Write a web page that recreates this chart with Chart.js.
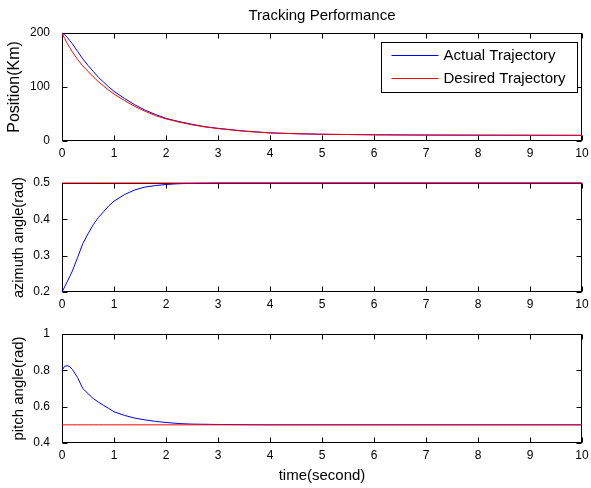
<!DOCTYPE html>
<html>
<head>
<meta charset="utf-8">
<title>Tracking Performance</title>
<script src="https://cdn.jsdelivr.net/npm/chart.js@4.4.1/dist/chart.umd.min.js"></script>
<style>
  html, body { margin: 0; padding: 0; background: #fff; }
  #wrap { position: relative; width: 591px; height: 488px; overflow: hidden; }
  #wrap canvas { position: absolute; left: 0; }
</style>
</head>
<body>
<div id="wrap">
  <canvas id="chart-position" width="591" height="165" style="top:0"></canvas>
  <canvas id="chart-azimuth" width="591" height="150" style="top:165px"></canvas>
  <canvas id="chart-pitch" width="591" height="173" style="top:315px"></canvas>
</div>
<script>
/* ---- Data ---- */
var TIME = [0, 0.05, 0.1, 0.15, 0.2, 0.3, 0.4, 0.5, 0.6, 0.7, 0.8, 0.9, 1.0,
  1.2, 1.4, 1.6, 1.8, 2.0, 2.25, 2.5, 2.75, 3.0, 3.5, 4.0, 4.5, 5, 6, 7, 8, 9, 10];

var POSITION_ACTUAL = [200, 197, 192, 186, 180, 166, 152, 140, 129, 118, 109, 100, 92,
  79, 67, 57, 49, 42, 36, 31, 26.5, 23.5, 18.5, 15, 13.5, 12.5, 11.5, 11, 10.8, 10.6, 10.5];
var POSITION_DESIRED = [200, 190, 181, 173, 165, 151, 139, 129, 119, 110, 102, 94, 87,
  75, 64, 55, 47, 41, 35, 30, 26, 23, 18, 15, 13.5, 12.5, 11.5, 11, 10.8, 10.6, 10.5];

var AZIMUTH_ACTUAL = [0.2, 0.214, 0.228, 0.243, 0.258, 0.295, 0.333, 0.36, 0.385, 0.405, 0.421, 0.437, 0.45,
  0.468, 0.481, 0.489, 0.493, 0.496, 0.498, 0.499, 0.4995, 0.5, 0.5, 0.5, 0.5, 0.5, 0.5, 0.5, 0.5, 0.5, 0.5];
var AZIMUTH_DESIRED = [0.5, 0.5, 0.5, 0.5, 0.5, 0.5, 0.5, 0.5, 0.5, 0.5, 0.5, 0.5, 0.5,
  0.5, 0.5, 0.5, 0.5, 0.5, 0.5, 0.5, 0.5, 0.5, 0.5, 0.5, 0.5, 0.5, 0.5, 0.5, 0.5, 0.5, 0.5];

var PITCH_ACTUAL = [0.80, 0.822, 0.826, 0.82, 0.805, 0.76, 0.70, 0.672, 0.645, 0.625, 0.607, 0.59, 0.572,
  0.552, 0.537, 0.527, 0.519, 0.513, 0.507, 0.504, 0.503, 0.502, 0.501, 0.5, 0.5, 0.5, 0.5, 0.5, 0.5, 0.5, 0.5];
var PITCH_DESIRED = [0.5, 0.5, 0.5, 0.5, 0.5, 0.5, 0.5, 0.5, 0.5, 0.5, 0.5, 0.5, 0.5,
  0.5, 0.5, 0.5, 0.5, 0.5, 0.5, 0.5, 0.5, 0.5, 0.5, 0.5, 0.5, 0.5, 0.5, 0.5, 0.5, 0.5, 0.5];

var X_TICKS = [0, 1, 2, 3, 4, 5, 6, 7, 8, 9, 10];
var POSITION_TICKS = [0, 100, 200];
var AZIMUTH_TICKS = [0.2, 0.3, 0.4, 0.5];
var PITCH_TICKS = [0.4, 0.6, 0.8, 1];

var SERIES_LABELS = ['Actual Trajectory', 'Desired Trajectory'];

(function () {
  var FONT = "'Liberation Sans', Arial, Helvetica, sans-serif";
  Chart.defaults.font.family = FONT;
  Chart.defaults.color = '#000';

  function points(values) {
    return TIME.map(function (t, i) { return { x: t, y: values[i] }; });
  }

  function setTicks(list) {
    return function (scale) {
      scale.ticks = list.map(function (v) { return { value: v }; });
    };
  }

  /* ---- MATLAB style box with inward ticks on all four sides ---- */
  var matlabAxes = {
    id: 'matlabAxes',
    beforeDatasetsDraw: function (chart) {
      var ctx = chart.ctx, a = chart.chartArea;
      var xs = chart.scales.x, ys = chart.scales.y;
      var L = Math.round(a.left) + 0.5, R = Math.round(a.right) - 0.5;
      var T = Math.round(a.top) + 0.5, B = Math.round(a.bottom) - 0.5;
      var len = 5;
      ctx.save();
      ctx.strokeStyle = '#000';
      ctx.lineWidth = 1;
      ctx.beginPath();
      xs.ticks.forEach(function (t) {
        var px = Math.round(xs.getPixelForValue(t.value)) + 0.5;
        ctx.moveTo(px, B); ctx.lineTo(px, B - len);
        ctx.moveTo(px, T); ctx.lineTo(px, T + len);
      });
      ys.ticks.forEach(function (t) {
        var py = Math.round(ys.getPixelForValue(t.value)) + 0.5;
        ctx.moveTo(L, py); ctx.lineTo(L + len, py);
        ctx.moveTo(R, py); ctx.lineTo(R - len, py);
      });
      ctx.stroke();
      ctx.strokeRect(L, T, R - L, B - T);
      ctx.restore();
    }
  };

  /* ---- Boxed legend in the upper right of the plot ---- */
  var boxLegend = {
    id: 'boxLegend',
    afterDatasetsDraw: function (chart) {
      var ctx = chart.ctx, a = chart.chartArea;
      var w = 196, h = 50;
      var left = Math.round(a.right - 5 - w) + 0.5;
      var top = Math.round(a.top + 9) + 0.5;
      ctx.save();
      ctx.fillStyle = '#fff';
      ctx.fillRect(left, top, w, h);
      ctx.strokeStyle = '#000';
      ctx.lineWidth = 1;
      ctx.strokeRect(left, top, w, h);
      ctx.font = '15px ' + FONT;
      ctx.textBaseline = 'middle';
      chart.data.datasets.forEach(function (ds, i) {
        var y = Math.round(top + 12.5 + i * 23) + 0.5;
        ctx.strokeStyle = ds.borderColor;
        ctx.beginPath();
        ctx.moveTo(left + 10, y);
        ctx.lineTo(left + 57, y);
        ctx.stroke();
        ctx.fillStyle = '#000';
        ctx.fillText(ds.label, left + 62, y);
      });
      ctx.restore();
    }
  };

  function makeChart(id, cfg) {
    var datasets = [
      {
        label: SERIES_LABELS[0],
        data: points(cfg.actual),
        borderColor: '#0000ff',
        backgroundColor: '#0000ff',
        order: 1
      },
      {
        label: SERIES_LABELS[1],
        data: points(cfg.desired),
        borderColor: '#ff0000',
        backgroundColor: '#ff0000',
        order: 0
      }
    ];
    datasets.forEach(function (ds) {
      ds.borderWidth = 1;
      ds.pointRadius = 0;
      ds.tension = 0;
      ds.fill = false;
      ds.clip = false;
    });

    var plugins = [matlabAxes];
    if (cfg.legend) plugins.push(boxLegend);

    return new Chart(document.getElementById(id), {
      type: 'line',
      data: { datasets: datasets },
      plugins: plugins,
      options: {
        responsive: false,
        animation: false,
        events: [],
        layout: { padding: { top: cfg.padTop, right: 9, bottom: 0, left: 0 } },
        plugins: {
          legend: { display: false },
          tooltip: { enabled: false },
          title: {
            display: !!cfg.title,
            text: cfg.title || '',
            fullSize: false,
            color: '#000',
            font: { size: 15, weight: 'normal' },
            padding: { top: 7, bottom: 8 }
          }
        },
        scales: {
          x: {
            type: 'linear',
            min: 0,
            max: 10,
            afterBuildTicks: setTicks(X_TICKS),
            afterFit: function (scale) { scale.height = cfg.xHeight; },
            /* tick marks are drawn by matlabAxes; tickLength only offsets labels */
            grid: { display: false, drawTicks: true, tickLength: 5 },
            border: { display: false },
            ticks: {
              padding: 0,
              maxRotation: 0,
              autoSkip: false,
              font: { size: 12 },
              callback: function (v) { return String(v); }
            },
            title: {
              display: !!cfg.xTitle,
              text: cfg.xTitle || '',
              font: { size: 15 },
              padding: { top: 0, bottom: 3 }
            }
          },
          y: {
            type: 'linear',
            min: cfg.yMin,
            max: cfg.yMax,
            afterBuildTicks: setTicks(cfg.yTicks),
            afterFit: function (scale) { scale.width = 62; },
            grid: { display: false, drawTicks: true, tickLength: 5 },
            border: { display: false },
            ticks: {
              padding: 7,
              autoSkip: false,
              font: { size: 12 },
              callback: function (v) { return String(v); }
            },
            title: {
              display: true,
              text: cfg.yTitle,
              font: { size: cfg.yTitleSize },
              padding: { top: cfg.yTitlePad, bottom: 0 }
            }
          }
        }
      }
    });
  }

  /* ---- Position ---- */
  makeChart('chart-position', {
    actual: POSITION_ACTUAL,
    desired: POSITION_DESIRED,
    yMin: 0, yMax: 200, yTicks: POSITION_TICKS,
    yTitle: 'Position(Km)', yTitlePad: 5, yTitleSize: 16,
    title: 'Tracking Performance',
    legend: true,
    padTop: 0, xHeight: 24
  });

  /* ---- Azimuth angle ---- */
  makeChart('chart-azimuth', {
    actual: AZIMUTH_ACTUAL,
    desired: AZIMUTH_DESIRED,
    yMin: 0.2, yMax: 0.5, yTicks: AZIMUTH_TICKS,
    yTitle: 'azimuth angle(rad)', yTitlePad: 10, yTitleSize: 14.5,
    padTop: 18, xHeight: 23
  });

  /* ---- Pitch angle ---- */
  makeChart('chart-pitch', {
    actual: PITCH_ACTUAL,
    desired: PITCH_DESIRED,
    yMin: 0.4, yMax: 1, yTicks: PITCH_TICKS,
    yTitle: 'pitch angle(rad)', yTitlePad: 10, yTitleSize: 15,
    xTitle: 'time(second)',
    padTop: 19, xHeight: 45
  });
})();
</script>
</body>
</html>
